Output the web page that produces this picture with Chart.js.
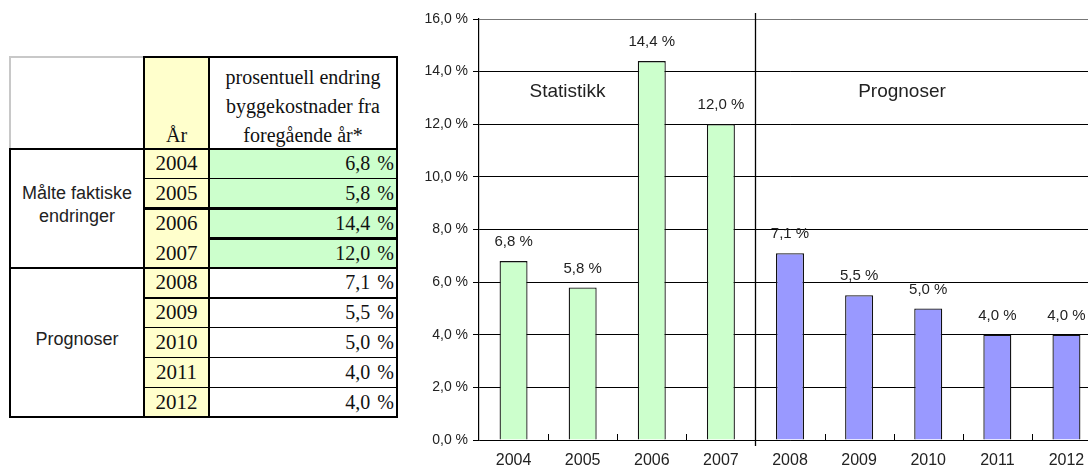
<!DOCTYPE html>
<html><head><meta charset="utf-8">
<script src="https://cdn.jsdelivr.net/npm/chart.js@4/dist/chart.umd.min.js"></script>
<style>
html,body{margin:0;padding:0;background:#fff;width:1088px;height:469px;overflow:hidden;position:relative}
#tbl{position:absolute;left:0;top:0;width:410px;height:469px}
.bg,.ln,.tx{position:absolute;box-sizing:border-box}
.tx{display:flex;align-items:center;color:#111;white-space:nowrap}
.serif{font-family:"Liberation Serif","Times New Roman",serif;font-size:20px}
.yr{font-size:21px}
.sans{font-family:"Liberation Sans",Arial,sans-serif;font-size:18px;color:#222}
#wrap{position:absolute;left:410px;top:0;width:700px;height:469px}
</style></head>
<body>
<div id="tbl"></div>
<div id="wrap"><canvas id="c" width="700" height="469"></canvas></div>
<script>
// ---- data ----
const years = ['2004','2005','2006','2007','2008','2009','2010','2011','2012'];
const values = [6.8, 5.8, 14.4, 12.0, 7.1, 5.5, 5.0, 4.0, 4.0];
const measuredCount = 4;           // first 4 years are measured, the rest forecasts
const yTicks = [0, 2, 4, 6, 8, 10, 12, 14, 16];
const headerLines = ['prosentuell endring', 'byggekostnader fra', 'foregående år*'];
const yearHeader = 'År';
const groupLabels = ['Målte faktiske endringer', 'Prognoser'];
const chartNotes = ['Statistikk', 'Prognoser'];

const fmt = v => v.toFixed(1).replace('.', ',') + ' %';

// ---- table (HTML) ----
const tbl = document.getElementById('tbl');
const X0 = 10, X1 = 144, X2 = 209, X3 = 397, Y0 = 57, Y1 = 149, RH = (417 - 149) / years.length;
const rowY = i => Y1 + i * RH;
function el(cls, css, txt) {
  const d = document.createElement('div');
  d.className = cls; Object.assign(d.style, css);
  if (txt !== undefined) d.textContent = txt;
  tbl.appendChild(d); return d;
}
const px = n => n + 'px';
// backgrounds
el('bg', {left: px(X1), top: px(Y0), width: px(X2 - X1), height: px(rowY(years.length) - Y0), background: '#FFFFCC'});
el('bg', {left: px(X2), top: px(Y1), width: px(X3 - X2), height: px(rowY(measuredCount) - Y1), background: '#CCFFCC'});
// texts
el('tx serif', {left: px(X1), top: px(Y1 - 28), width: px(X2 - X1), height: px(28), justifyContent: 'center'}, yearHeader);
headerLines.forEach((t, i) => el('tx serif', {left: px(X2), top: px(63 + i * 29), width: px(X3 - X2), height: px(29), justifyContent: 'center'}, t));
years.forEach((y, i) => {
  el('tx serif yr', {left: px(X1), top: px(rowY(i)), width: px(X2 - X1), height: px(RH), justifyContent: 'center'}, y);
  el('tx serif', {left: px(X2), top: px(rowY(i)), width: px(X3 - X2 - 3), height: px(RH), justifyContent: 'flex-end', wordSpacing: '2px'}, fmt(values[i]));
});
el('tx sans', {left: px(X0), top: px(rowY(0) - 4), width: px(X1 - X0), height: px(rowY(measuredCount) - rowY(0)), justifyContent: 'center', whiteSpace: 'normal', textAlign: 'center', lineHeight: '23px', padding: '0 6px'}, groupLabels[0]);
el('tx sans', {left: px(X0), top: px(rowY(measuredCount) - 3), width: px(X1 - X0), height: px(rowY(years.length) - rowY(measuredCount)), justifyContent: 'center'}, groupLabels[1]);
// lines
function hl(y, x1, x2, w, c) { el('ln', {left: px(x1 - w / 2), top: px(y - w / 2), width: px(x2 - x1 + w), height: px(w), background: c || '#000'}); }
function vl(x, y1, y2, w, c) { el('ln', {left: px(x - w / 2), top: px(y1 - w / 2), width: px(w), height: px(y2 - y1 + w), background: c || '#000'}); }
const TH = 2.5, TN = 1.2, END = rowY(years.length);
hl(Y0, X0, X1, 2, '#c8c8c8'); vl(X0, Y0, Y1, 2, '#c8c8c8');
hl(Y0, X1, X3, 1.5);
vl(X1, Y0, END, TH); vl(X2, Y0, END, TN); vl(X3, Y0, END, TH);
hl(Y1, X0, X3, TH); vl(X0, Y1, END, TH); hl(END, X0, X3, TH);
hl(rowY(measuredCount), X0, X3, TH);
hl(rowY(1), X1, X3, TN);
hl(rowY(2), X1, X3, TH);
hl(rowY(3), X2, X3, TH);
hl(rowY(5), X1, X3, TH);
hl(rowY(6), X1, X3, TN); hl(rowY(7), X1, X3, TN); hl(rowY(8), X1, X3, TN);

// ---- chart ----
const FONT = '"Liberation Sans", Arial, sans-serif';
const decor = {
  id: 'decor',
  afterDatasetsDraw(chart) {
    const {ctx, chartArea: a, scales: {x, y}} = chart;
    const half = (x.getPixelForValue(1) - x.getPixelForValue(0)) / 2;
    ctx.save();
    ctx.strokeStyle = '#000'; ctx.lineWidth = 1;
    // inside tick marks at category boundaries
    for (let i = 1; i <= years.length; i++) {
      const bx = Math.round(x.getPixelForValue(i) - half) + 0.5;
      ctx.beginPath(); ctx.moveTo(bx, a.bottom - 6); ctx.lineTo(bx, a.bottom); ctx.stroke();
    }
    // divider between statistics and forecasts
    const dx = Math.round(x.getPixelForValue(measuredCount) - half) + 0.5;
    ctx.lineWidth = 1.3;
    ctx.beginPath(); ctx.moveTo(dx, a.top - 6); ctx.lineTo(dx, a.bottom + 6); ctx.stroke();
    // value labels
    ctx.fillStyle = '#222'; ctx.font = '15px ' + FONT; ctx.textAlign = 'center'; ctx.textBaseline = 'middle';
    chart.getDatasetMeta(0).data.forEach((bar, i) => {
      ctx.fillText(fmt(values[i]), bar.x, bar.y - 19);
    });
    // section notes
    ctx.font = '19px ' + FONT;
    const notePos = [0.78, 5.62];
    chartNotes.forEach((t, i) => {
      const p = notePos[i], k = Math.floor(p);
      const nx = x.getPixelForValue(k) + (p - k) * half * 2;
      ctx.fillText(t, nx, y.getPixelForValue(13.25));
    });
    ctx.restore();
  }
};

new Chart(document.getElementById('c'), {
  type: 'bar',
  data: {
    labels: years,
    datasets: [{
      data: values,
      backgroundColor: values.map((v, i) => i < measuredCount ? '#CCFFCC' : '#9999FF'),
      borderColor: '#111',
      borderWidth: 1.3,
      barPercentage: 0.405,
      categoryPercentage: 1
    }]
  },
  options: {
    responsive: false,
    animation: false,
    layout: {padding: {top: 19, right: 9, left: 0, bottom: 0}},
    plugins: {legend: {display: false}, tooltip: {enabled: false}},
    scales: {
      x: {
        grid: {display: false, drawTicks: false},
        border: {display: false},
        ticks: {font: {family: FONT, size: 16}, color: '#222', padding: 11},
        afterFit(s) { s.height = 29; }
      },
      y: {
        min: yTicks[0], max: yTicks[yTicks.length - 1],
        afterBuildTicks(s) { s.ticks = yTicks.map(v => ({value: v})); },
        ticks: {callback: v => fmt(v), font: {family: FONT, size: 14}, color: '#222', padding: 5},
        grid: {color: c => c.tick && c.tick.value === 16 ? '#777' : '#000', lineWidth: 1, tickLength: 6, tickColor: '#000'},
        border: {color: '#000', width: 1.2},
        afterFit(s) { s.width = 69; }
      }
    }
  },
  plugins: [decor]
});
</script>
</body></html>
